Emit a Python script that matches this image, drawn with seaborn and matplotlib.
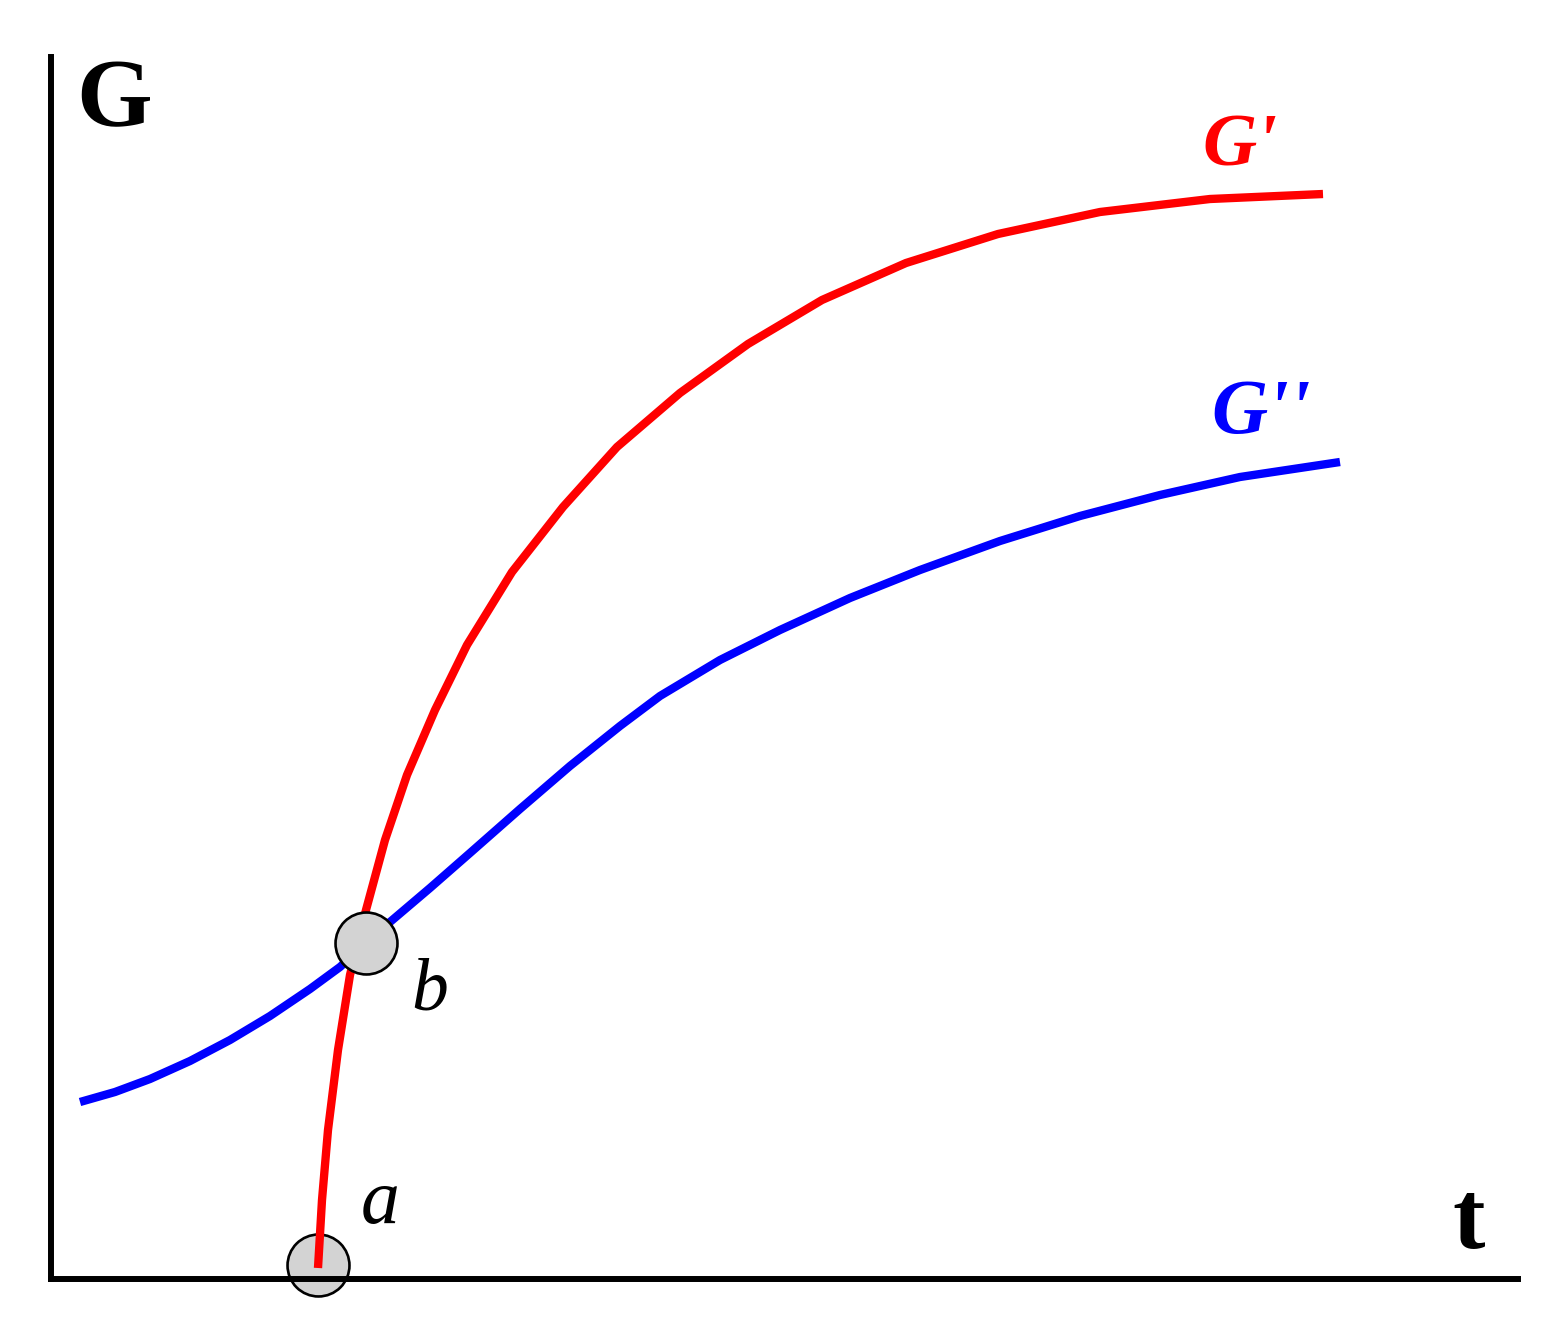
import matplotlib
matplotlib.use("Agg")
import matplotlib.pyplot as plt
import seaborn as sns
import pandas as pd

# Storage modulus G' (red) — x = time, y = modulus (schematic units)
red_t = [267, 271, 277, 287, 299, 315, 334, 356, 384, 416, 461, 512, 566, 629,
         697, 771, 855, 947, 1049, 1159, 1272]
red_g = [11, 79, 149, 229, 304, 369, 439, 504, 569, 634, 707, 772, 832, 886,
         935, 979, 1016, 1045, 1067, 1080, 1085]

# Loss modulus G'' (blue)
blue_t = [29, 64, 99, 139, 179, 219, 259, 289, 315, 339, 379, 419, 469, 519,
          569, 609, 669, 729, 799, 869, 949, 1029, 1109, 1189, 1289]
blue_g = [177, 187, 200, 218, 239, 263, 290, 312, 336, 357, 391, 426, 470, 513,
          553, 583, 619, 649, 681, 709, 738, 763, 784, 802, 817]

# Marked points a (gel start) and b (crossover)
pt_labels = ["a", "b"]
pt_t = [267, 315]
pt_g = [14, 336]

sns.set_style("white")
plt.rcParams['font.family'] = ['Liberation Serif', 'DejaVu Serif']

W, H = 1561, 1328
fig = plt.figure(figsize=(W / 100, H / 100), dpi=100)
ax = fig.add_axes([51 / W, (H - 1279) / H, (1518 - 51) / W, (1279 - 57) / H])
ax.set_xlim(0, 1467)
ax.set_ylim(0, 1222)

red_df = pd.DataFrame({"t": red_t, "G": red_g})
blue_df = pd.DataFrame({"t": blue_t, "G": blue_g})

# circle a below the red curve
ax.scatter([pt_t[0]], [pt_g[0]], s=44.6 ** 2, facecolor="#d3d3d3",
           edgecolor="black", linewidth=1.9, zorder=2, clip_on=False)
sns.lineplot(data=blue_df, x="t", y="G", ax=ax, color="#0000ff", lw=6.0,
             zorder=3, sort=False, solid_capstyle="butt")
sns.lineplot(data=red_df, x="t", y="G", ax=ax, color="#ff0000", lw=6.0,
             zorder=4, sort=False, solid_capstyle="butt")
# circle b above both curves
ax.scatter([pt_t[1]], [pt_g[1]], s=44.6 ** 2, facecolor="#d3d3d3",
           edgecolor="black", linewidth=1.9, zorder=5, clip_on=False)

for sp in ["top", "right"]:
    ax.spines[sp].set_visible(False)
for sp in ["left", "bottom"]:
    ax.spines[sp].set_linewidth(4.3)
    ax.spines[sp].set_color("black")
    ax.spines[sp].set_capstyle("projecting")
ax.set_xticks([])
ax.set_yticks([])
ax.set_xlabel("")
ax.set_ylabel("")

ax.text(25, 1153, "G", fontsize=70, fontweight="bold", ha="left",
        va="baseline", color="black", clip_on=False)
ax.text(1401, 31, "t", fontsize=70, fontweight="bold", ha="left",
        va="baseline", color="black", clip_on=False)
ax.text(1151, 1114, "G'", fontsize=54, fontweight="bold", style="italic",
        ha="left", va="baseline", color="#ff0000")
ax.text(1160, 846, "G''", fontsize=56, fontweight="bold", style="italic",
        ha="left", va="baseline", color="#0000ff")
ax.text(310, 56, pt_labels[0], fontsize=56, style="italic", ha="left",
        va="baseline", color="black")
ax.text(360, 269, pt_labels[1], fontsize=53, style="italic", ha="left",
        va="baseline", color="black")

fig.savefig("out.png", dpi=100)
